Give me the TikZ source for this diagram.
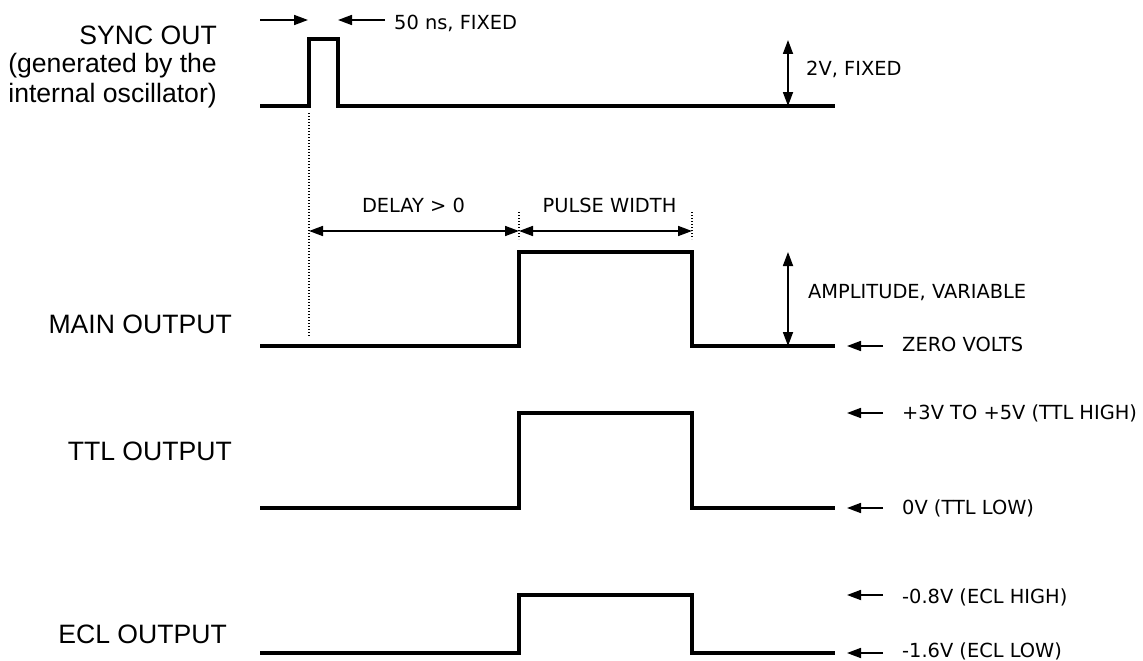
\documentclass[tikz,border=0pt]{standalone}
\usepackage{fontspec}
\setmainfont{DejaVu Sans}
\newfontfamily\lblfont{Liberation Sans}
\usetikzlibrary{arrows.meta}
\begin{document}
\begin{tikzpicture}[x=1pt,y=-1pt,
  wave/.style={line width=3.3pt, line join=miter},
  dimline/.style={line width=1.7pt},
  onetip/.style={dimline,-{Triangle[length=14pt,width=10pt]}},
  twotip/.style={dimline,{Triangle[length=14pt,width=10pt]}-{Triangle[length=14pt,width=10pt]}},
  guide/.style={line width=1.3pt, dash pattern=on 1.4pt off 1.6pt},
  small/.style={font=\fontsize{19.4}{23}\selectfont, inner sep=0pt},
  big/.style={font=\lblfont\fontsize{26.6}{29}\selectfont, inner sep=0pt, align=right}]
\useasboundingbox (0,0) rectangle (1143,661);

% ---------- left labels ----------
\node[big, anchor=base east] (lsync) at (217,102) {SYNC OUT\\(generated by the\\internal oscillator)};
\node[big, anchor=base east] (lmain) at (232,333) {MAIN OUTPUT};
\node[big, anchor=base east] (lttl) at (232,460) {TTL OUTPUT};
\node[big, anchor=base east] (lecl) at (227,643) {ECL OUTPUT};

% ---------- waveforms ----------
\coordinate (s0) at (260,106); \coordinate (s1) at (309,106); \coordinate (s2) at (309,39);
\coordinate (s3) at (338,39);  \coordinate (s4) at (338,106); \coordinate (s5) at (835,106);
\draw[wave] (s0) -- (s1) -- (s2) -- (s3) -- (s4) -- (s5);

\coordinate (m0) at (260,346); \coordinate (m1) at (519,346); \coordinate (m2) at (519,252);
\coordinate (m3) at (692,252); \coordinate (m4) at (692,346); \coordinate (m5) at (835,346);
\draw[wave] (m0) -- (m1) -- (m2) -- (m3) -- (m4) -- (m5);

\coordinate (t0) at (260,508); \coordinate (t1) at (519,508); \coordinate (t2) at (519,413);
\coordinate (t3) at (692,413); \coordinate (t4) at (692,508); \coordinate (t5) at (835,508);
\draw[wave] (t0) -- (t1) -- (t2) -- (t3) -- (t4) -- (t5);

\coordinate (e0) at (260,653); \coordinate (e1) at (519,653); \coordinate (e2) at (519,595);
\coordinate (e3) at (692,595); \coordinate (e4) at (692,653); \coordinate (e5) at (835,653);
\draw[wave] (e0) -- (e1) -- (e2) -- (e3) -- (e4) -- (e5);

% ---------- sync pulse width ----------
\coordinate (pa) at (260,20); \coordinate (pb) at (308,20);
\coordinate (pc) at (385,20); \coordinate (pd) at (338,20);
\draw[onetip] (pa) -- (pb);
\draw[onetip] (pc) -- (pd);
\node[small, anchor=base west] (l50) at (394,30) {50 ns, FIXED};

% ---------- 2V ----------
\coordinate (va) at (788,40); \coordinate (vb) at (788,106);
\draw[twotip] (va) -- (vb);
\node[small, anchor=base west] (l2v) at (806,76) {2V, FIXED};

% ---------- guides ----------
\coordinate (g0a) at (309,113); \coordinate (g0b) at (309,337);
\coordinate (g1a) at (519,212); \coordinate (g1b) at (519,239);
\coordinate (g2a) at (692,212); \coordinate (g2b) at (692,239);
\draw[guide] (g0a) -- (g0b);
\draw[guide] (g1a) -- (g1b);
\draw[guide] (g2a) -- (g2b);

\coordinate (d0) at (309,231); \coordinate (d1) at (519,231); \coordinate (d2) at (692,231);
\draw[twotip] (d0) -- (d1);
\draw[twotip] (d1) -- (d2);
\node[small, anchor=base] (ldelay) at (413.5,212) {DELAY > 0};
\node[small, anchor=base] (lpw) at (609.5,212) {PULSE WIDTH};

% ---------- amplitude ----------
\coordinate (aa) at (788,252); \coordinate (ab) at (788,346);
\draw[twotip] (aa) -- (ab);
\node[small, anchor=base west] (lamp) at (808,298) {AMPLITUDE, VARIABLE};

% ---------- level markers ----------
\node[small, anchor=base west] (lzero) at (902,351) {ZERO VOLTS};
\node[small, anchor=base west] (lth) at (902,419) {+3V TO +5V (TTL HIGH)};
\node[small, anchor=base west] (ltl) at (902,514) {0V (TTL LOW)};
\node[small, anchor=base west] (leh) at (902,603) {-0.8V (ECL HIGH)};
\node[small, anchor=base west] (lel) at (902,657) {-1.6V (ECL LOW)};

\foreach \n/\y in {z/346, th/413, tl/508, eh/595, el/653}{
  \coordinate (\n a) at (883,\y);
  \coordinate (\n b) at (847,\y);
  \draw[onetip] (\n a) -- (\n b);
}
\end{tikzpicture}
\end{document}
